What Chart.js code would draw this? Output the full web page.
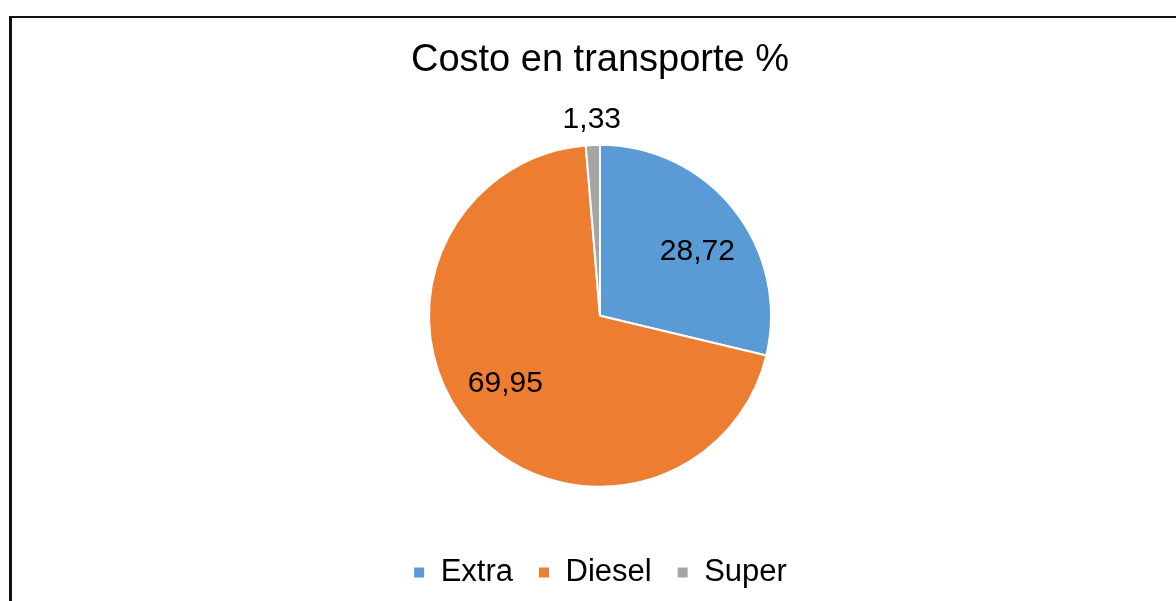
<!DOCTYPE html>
<html>
<head>
<meta charset="utf-8">
<script src="https://cdn.jsdelivr.net/npm/chart.js@4/dist/chart.umd.min.js"></script>
<style>
html,body{margin:0;padding:0;background:#fff;}
#wrap{position:relative;width:1176px;height:601px;}
</style>
</head>
<body>
<div id="wrap"><canvas id="c" width="1176" height="601"></canvas></div>
<script>
const categories = ['Extra', 'Diesel', 'Super'];
const values = [28.72, 69.95, 1.33];
const valueLabels = ['28,72', '69,95', '1,33'];
const colors = ['#5B9BD5', '#ED7D31', '#A5A5A5'];
const titleText = 'Costo en transporte %';

const FONT = '"Liberation Sans", Arial, sans-serif';

const framePlugin = {
  id: 'frame',
  beforeDraw(chart) {
    const ctx = chart.ctx;
    ctx.save();
    ctx.fillStyle = '#fff';
    ctx.fillRect(0, 0, chart.width, chart.height);
    ctx.fillStyle = '#111';
    ctx.fillRect(9, 16, 3, chart.height - 16);
    ctx.fillRect(9, 16, chart.width - 9, 2);
    ctx.restore();
  }
};

const labelPlugin = {
  id: 'sliceLabels',
  afterDatasetsDraw(chart) {
    const ctx = chart.ctx;
    const meta = chart.getDatasetMeta(0);
    const total = values.reduce((a, b) => a + b, 0);
    ctx.save();
    ctx.font = '30px ' + FONT;
    ctx.fillStyle = '#000';
    ctx.textAlign = 'center';
    ctx.textBaseline = 'middle';
    meta.data.forEach((arc, i) => {
      const p = arc.getProps(['x', 'y', 'startAngle', 'endAngle', 'outerRadius'], true);
      const mid = (p.startAngle + p.endAngle) / 2;
      const outside = values[i] / total < 0.05;
      const ang = outside ? mid : mid + 0.09;
      const r = outside ? p.outerRadius + 25 : p.outerRadius * 0.68;
      ctx.fillText(valueLabels[i], p.x + Math.cos(ang) * r, p.y + Math.sin(ang) * r);
    });
    ctx.restore();
  }
};

new Chart(document.getElementById('c'), {
  type: 'pie',
  data: {
    labels: categories,
    datasets: [{
      data: values,
      backgroundColor: colors,
      borderColor: '#fff',
      borderWidth: 2,
      hoverOffset: 0,
      radius: 171
    }]
  },
  options: {
    responsive: false,
    animation: false,
    events: [],
    layout: { padding: { top: 0, bottom: 3, left: 24, right: 0 } },
    plugins: {
      tooltip: { enabled: false },
      title: {
        display: true,
        text: titleText,
        color: '#000',
        font: { family: FONT, size: 38, weight: 'normal' },
        padding: { top: 38, bottom: 16 }
      },
      legend: {
        display: true,
        position: 'bottom',
        labels: {
          color: '#000',
          font: { family: FONT, size: 31 },
          boxWidth: 12,
          boxHeight: 12,
          padding: 25
        }
      }
    }
  },
  plugins: [framePlugin, labelPlugin]
});
</script>
</body>
</html>
